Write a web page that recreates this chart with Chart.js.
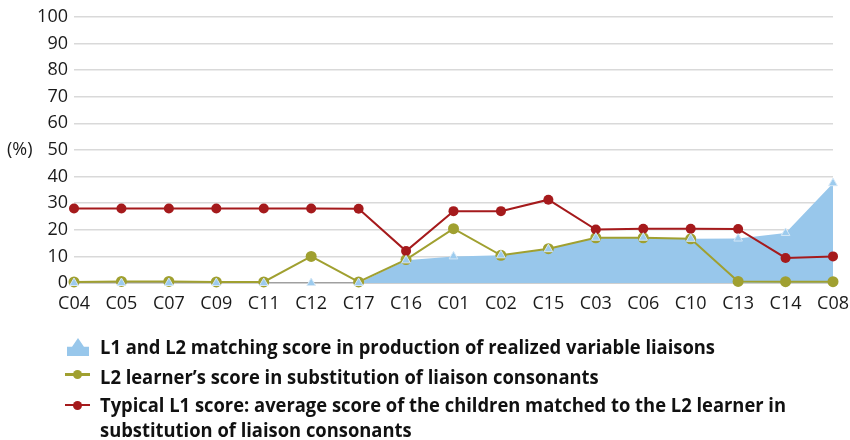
<!DOCTYPE html>
<html>
<head>
<meta charset="utf-8">
<script src="https://cdn.jsdelivr.net/npm/chart.js@4/dist/chart.umd.min.js"></script>
<style>
html, body { margin: 0; padding: 0; background: #fff; }
#wrap { position: relative; width: 850px; height: 440px; overflow: hidden; }
#chart-box { position: absolute; left: 0; top: 0; width: 850px; height: 320px; }
#legend { position: absolute; left: 0; top: 0; width: 850px; height: 440px;
  font-family: "Open Sans", sans-serif; font-weight: 700; font-size: 20px; color: #111; }
.txt { position: absolute; left: 100px; white-space: nowrap; transform-origin: 0 50%; line-height: 26px; }
.area-icon { position: absolute; left: 67px; top: 338px; width: 22px; height: 18px; background: #98c7eb;
  clip-path: polygon(50% 0, 77% 48%, 100% 48%, 100% 100%, 0 100%, 0 48%, 23% 48%); }
.line-icon { position: absolute; left: 65px; width: 25px; height: 2.5px; }
.dot-icon { position: absolute; left: 73px; width: 9px; height: 9px; border-radius: 50%; }
</style>
</head>
<body>
<div id="wrap">
  <div id="chart-box"><canvas id="chart"></canvas></div>
  <div id="legend">
    <div class="area-icon"></div>
    <div class="line-icon" style="top:373px;background:#a0a030"></div>
    <div class="dot-icon" style="top:370px;background:#a0a030"></div>
    <div class="line-icon" style="top:403.5px;background:#a51a1c"></div>
    <div class="dot-icon" style="top:400.5px;background:#a51a1c"></div>
    <div class="txt" id="l1" style="top:334px"></div>
    <div class="txt" id="l2" style="top:363.5px"></div>
    <div class="txt" id="l3" style="top:392px"></div>
    <div class="txt" id="l4" style="top:417px"></div>
  </div>
</div>
<script>
const categories = ['C04', 'C05', 'C07', 'C09', 'C11', 'C12', 'C17', 'C16', 'C01', 'C02', 'C15', 'C03', 'C06', 'C10', 'C13', 'C14', 'C08']
const matchingScore = [0, 0, 0, 0, 0, 0, 0, 8.5, 10, 10.4, 12.7, 17, 17, 16.6, 16.7, 18.8, 37.5]
const learnerScore = [0.4, 0.6, 0.6, 0.4, 0.4, 10, 0.4, 8.8, 20.4, 10.4, 12.9, 17, 17, 16.6, 0.6, 0.5, 0.5]
const typicalL1Score = [28, 28, 28, 28, 28, 28, 27.9, 12, 27, 27, 31.3, 20.1, 20.4, 20.4, 20.3, 9.4, 10]
const seriesNames = [
	'L1 and L2 matching score in production of realized variable liaisons',
	'L2 learner\u2019s score in substitution of liaison consonants',
	'Typical L1 score: average score of the children matched to the L2 learner in',
	'substitution of liaison consonants'
]
const yMin = 0
const yMax = 100
const yStep = 10

const blue = '#98c7eb'
const olive = '#a0a030'
const red = '#a51a1c'
const font = '"Open Sans", sans-serif'

// legend text, squeezed to the condensed look of the original
const ids = ['l1', 'l2', 'l3', 'l4']
ids.forEach((id, i) => { document.getElementById(id).textContent = seriesNames[i] })
const first = document.getElementById('l1')
const squeeze = 615 / first.getBoundingClientRect().width
ids.forEach(id => { document.getElementById(id).style.transform = `scaleX(${squeeze})` })

const unitLabel = {
	id: 'unitLabel',
	afterDraw(chart) {
		const { ctx, scales: { y } } = chart
		ctx.save()
		ctx.font = `18px ${font}`
		ctx.fillStyle = '#1a1a1a'
		ctx.textAlign = 'left'
		ctx.textBaseline = 'middle'
		ctx.fillText('(%)', 7, y.getPixelForValue(50))
		ctx.restore()
	}
}

const ctx = document.getElementById('chart').getContext('2d')

new Chart(ctx, {
	type: 'line',
	data: {
		labels: categories,
		datasets: [{
			label: seriesNames[0],
			data: matchingScore,
			fill: 'origin',
			backgroundColor: blue,
			borderWidth: 0,
			borderColor: blue,
			pointStyle: 'triangle',
			pointRadius: 5,
			pointBackgroundColor: '#9ccbee',
			pointBorderColor: '#d4e7f6',
			pointBorderWidth: 1,
			tension: 0,
			order: 0,
			clip: false,
		}, {
			label: seriesNames[1],
			data: learnerScore,
			borderColor: olive,
			backgroundColor: olive,
			borderWidth: 2,
			pointRadius: 5.5,
			pointBackgroundColor: olive,
			pointBorderWidth: 0,
			tension: 0,
			order: 2,
			clip: false,
		}, {
			label: seriesNames[2] + ' ' + seriesNames[3],
			data: typicalL1Score,
			borderColor: red,
			backgroundColor: red,
			borderWidth: 2,
			pointRadius: 5,
			pointBackgroundColor: red,
			pointBorderWidth: 0,
			tension: 0,
			order: 1,
			clip: false,
		}],
	},
	options: {
		responsive: true,
		maintainAspectRatio: false,
		animation: false,
		layout: {
			padding: { top: 16, right: 17, left: 0, bottom: 0 }
		},
		plugins: {
			legend: { display: false },
			tooltip: { enabled: false },
			filler: { drawTime: 'beforeDatasetsDraw' },
		},
		scales: {
			x: {
				offset: false,
				grid: { display: false },
				border: { display: false },
				ticks: {
					color: '#1a1a1a',
					font: { family: font, size: 18 },
					padding: 2,
					maxRotation: 0,
					autoSkip: false,
				},
				afterFit(scale) {
					scale.height = 37
					scale.paddingLeft = 0
					scale.paddingRight = 0
				},
			},
			y: {
				min: yMin,
				max: yMax,
				border: { display: false },
				grid: {
					drawTicks: false,
					lineWidth: 1.5,
					color: c => c.tick.value === 0 ? '#a0a0a0' : '#d9d9d9',
				},
				ticks: {
					stepSize: yStep,
					color: '#1a1a1a',
					font: { family: font, size: 18 },
					padding: 6,
				},
				afterFit(scale) { scale.width = 74 },
			}
		}
	},
	plugins: [unitLabel]
})
</script>
</body>
</html>
